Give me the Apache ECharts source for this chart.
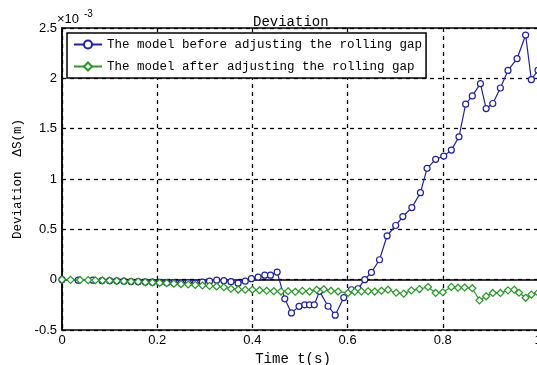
<!DOCTYPE html>
<html>
<head>
<meta charset="utf-8">
<script src="https://cdn.jsdelivr.net/npm/echarts@6/dist/echarts.min.js"></script>
<style>html,body{margin:0;padding:0;background:#fff;}#c{width:537px;height:365px;}</style>
</head>
<body>
<div id="c"></div>
<script>
// values in units of 1e-3 m
const blueT = [0.000,0.034,0.065,0.084,0.100,0.115,0.130,0.145,0.160,0.175,0.190,0.205,0.220,0.235,0.250,0.265,0.280,0.295,0.310,0.325,0.340,0.355,0.370,0.385,0.398,0.412,0.426,0.438,0.452,0.468,0.482,0.498,0.510,0.520,0.530,0.541,0.559,0.574,0.592,0.608,0.622,0.636,0.650,0.667,0.683,0.701,0.716,0.735,0.753,0.767,0.785,0.802,0.818,0.834,0.848,0.862,0.879,0.891,0.905,0.921,0.937,0.956,0.974,0.986,1.000];
const blueV = [0.000,-0.005,-0.005,-0.010,-0.010,-0.012,-0.015,-0.018,-0.020,-0.022,-0.025,-0.028,-0.030,-0.030,-0.035,-0.030,-0.035,-0.025,-0.015,-0.005,-0.010,-0.020,-0.035,-0.015,0.010,0.025,0.045,0.045,0.075,-0.190,-0.330,-0.265,-0.250,-0.250,-0.250,-0.116,-0.264,-0.353,-0.178,-0.100,-0.090,0.000,0.072,0.198,0.436,0.538,0.627,0.716,0.864,1.106,1.195,1.228,1.287,1.419,1.743,1.825,1.947,1.700,1.750,1.904,2.079,2.195,2.430,1.987,2.080];
const greenT = [0.000,0.018,0.038,0.055,0.070,0.085,0.100,0.115,0.130,0.145,0.160,0.175,0.190,0.205,0.220,0.235,0.250,0.265,0.280,0.295,0.310,0.325,0.340,0.355,0.370,0.385,0.400,0.415,0.430,0.445,0.460,0.475,0.490,0.505,0.520,0.535,0.550,0.565,0.580,0.601,0.615,0.629,0.643,0.657,0.671,0.685,0.702,0.718,0.734,0.751,0.769,0.785,0.800,0.818,0.832,0.846,0.862,0.877,0.891,0.905,0.921,0.937,0.950,0.960,0.974,0.986,1.000];
const greenV = [0.000,-0.002,-0.003,-0.005,-0.006,-0.008,-0.010,-0.012,-0.015,-0.018,-0.020,-0.024,-0.028,-0.032,-0.035,-0.040,-0.045,-0.048,-0.052,-0.058,-0.062,-0.068,-0.075,-0.090,-0.098,-0.100,-0.100,-0.105,-0.110,-0.115,-0.118,-0.115,-0.120,-0.112,-0.118,-0.100,-0.095,-0.110,-0.118,-0.132,-0.120,-0.116,-0.115,-0.118,-0.110,-0.100,-0.130,-0.139,-0.106,-0.093,-0.073,-0.132,-0.125,-0.072,-0.080,-0.078,-0.085,-0.205,-0.165,-0.132,-0.132,-0.106,-0.100,-0.130,-0.180,-0.149,-0.130];
const seriesNames = ['The model before adjusting the rolling gap','The model after adjusting the rolling gap'];
const titleText = 'Deviation';
const xName = 'Time t(s)';
const yName = 'Deviation  \u0394S(m)';

const mono = '"Liberation Mono","DejaVu Sans Mono",monospace';
const sans = '"Liberation Sans",Arial,sans-serif';
const chart = echarts.init(document.getElementById('c'));
const zip = (a, b) => a.map((t, i) => [t, b[i]]);
chart.setOption({
  animation: false,
  backgroundColor: '#fff',
  title: { text: titleText, left: 248, top: 10, textStyle: { fontFamily: mono, fontSize: 14, fontWeight: 'normal', color: '#000' } },
  graphic: [
    { type: 'text', left: 57, top: 13, style: { text: '\u00d710', font: '13px ' + sans, fill: '#000' } },
    { type: 'text', left: 84, top: 9, style: { text: '-3', font: '10px ' + sans, fill: '#000' } }
  ],
  legend: {
    left: 67, top: 33, orient: 'vertical',
    itemWidth: 28, itemHeight: 10, itemGap: 9,
    padding: [5, 4, 5, 6],
    borderColor: '#000', borderWidth: 1.5, backgroundColor: '#fff',
    textStyle: { fontFamily: mono, fontSize: 12.5, color: '#000' },
    data: seriesNames
  },
  grid: { left: 62, top: 28, width: 476, height: 302, outerBoundsMode: 'none', containLabel: false, show: true, borderColor: '#000', borderWidth: 1.5, backgroundColor: '#fff' },
  xAxis: [{
    type: 'value', min: 0, max: 1, interval: 0.2,
    name: xName, nameLocation: 'middle', nameGap: 20,
    nameTextStyle: { fontFamily: mono, fontSize: 14, color: '#000', padding: [0, 14, 0, 0] },
    axisLine: { lineStyle: { color: '#000', width: 1.5 } },
    axisTick: { inside: true, length: 4, lineStyle: { color: '#000' } },
    axisLabel: { margin: 4, fontFamily: sans, fontSize: 13, color: '#000' },
    splitLine: { show: true, lineStyle: { color: '#000', type: [4, 4], width: 1.3 } }
  }, {
    type: 'value', min: 0, max: 1, interval: 0.2, position: 'top',
    axisLine: { show: false }, axisLabel: { show: false }, splitLine: { show: false },
    axisTick: { inside: true, length: 4, lineStyle: { color: '#000' } }
  }],
  yAxis: {
    type: 'value', min: -0.5, max: 2.5, interval: 0.5,
    name: yName, nameLocation: 'middle', nameRotate: 90, nameGap: 29,
    nameTextStyle: { fontFamily: mono, fontSize: 12.5, color: '#000' },
    axisLine: { show: true, lineStyle: { color: '#000', width: 1.5 } },
    axisTick: { show: true, inside: true, length: 4, lineStyle: { color: '#000' } },
    axisLabel: { margin: 5, fontFamily: sans, fontSize: 13, color: '#000' },
    splitLine: { show: true, lineStyle: { color: '#000', type: [4, 4], width: 1.3 } }
  },
  series: [{
    name: seriesNames[0], type: 'line', data: zip(blueT, blueV),
    symbol: 'circle', symbolSize: 6, showAllSymbol: true,
    itemStyle: { color: '#fff', borderColor: '#22229a', borderWidth: 1.2 },
    lineStyle: { color: '#22229a', width: 1.2 }, z: 3
  }, {
    name: seriesNames[1], type: 'line', data: zip(greenT, greenV),
    symbol: 'diamond', symbolSize: 7, showAllSymbol: true,
    itemStyle: { color: '#fff', borderColor: '#2a962a', borderWidth: 1.2 },
    lineStyle: { color: '#2a962a', width: 1.2 }, z: 4
  }]
});
</script>
</body>
</html>
